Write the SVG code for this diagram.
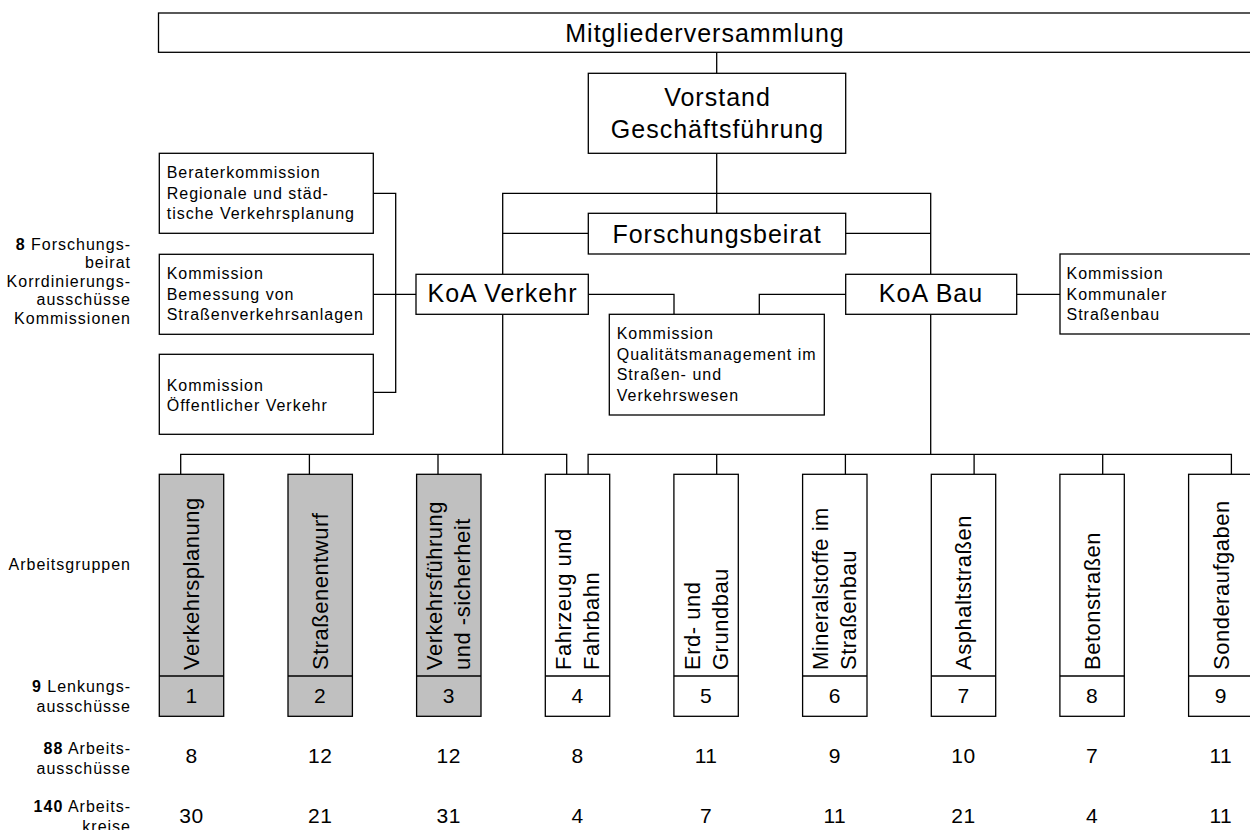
<svg xmlns="http://www.w3.org/2000/svg" width="1250" height="830" viewBox="0 0 1250 830">
  <style>
    text { font-family: "Liberation Sans", Arial, sans-serif; fill: #000; }
    .box { fill: #fff; stroke: #000; stroke-width: 1.3; }
    .grey { fill: #c0c0c0; }
    .con { fill: none; stroke: #000; stroke-width: 1.3; }
    .big { font-size: 25px; letter-spacing: 1px; text-anchor: middle; }
    .sm { font-size: 16px; letter-spacing: 1px; }
    .lbl { font-size: 16px; letter-spacing: 1px; text-anchor: end; }
    .rot { font-size: 22px; letter-spacing: 0.5px; }
    .num { font-size: 21px; letter-spacing: 0.5px; text-anchor: middle; }
    b, .b { font-weight: bold; }
  </style>

  <!-- connectors -->
  <g id="connectors" class="con">
    <path d="M716.7,52.3 V73.3"/>
    <path d="M716.7,153.3 V213.3"/>
    <path d="M502.7,274.3 V193.3 H930.7 V274.3"/>
    <path d="M502.7,233.3 H588.3"/>
    <path d="M845.7,233.3 H930.7"/>
    <path d="M373.3,193.3 H395.7 V392.3 H373.3"/>
    <path d="M373.3,294.3 H416"/>
    <path d="M588.3,294.3 H674 V314.3"/>
    <path d="M845.7,294.3 H759.3 V314.3"/>
    <path d="M1016.7,294.3 H1060"/>
    <path d="M502.7,314.3 V454.3"/>
    <path d="M930.7,314.3 V454.3"/>
    <path d="M180.7,474.3 V454.3 H566.7 V474.3 M309.4,454.3 V474.3 M438,454.3 V474.3"/>
    <path d="M588.1,474.3 V454.3 H1231.4 V474.3 M716.7,454.3 V474.3 M845.4,454.3 V474.3 M974.1,454.3 V474.3 M1102.7,454.3 V474.3"/>
  </g>

  <!-- top levels -->
  <g id="mitgliederversammlung">
    <rect class="box" x="158.5" y="13" width="1092.5" height="39.3"/>
    <text class="big" x="705" y="42">Mitgliederversammlung</text>
  </g>
  <g id="vorstand">
    <rect class="box" x="588.3" y="73.3" width="257.4" height="80"/>
    <text class="big" x="717.5" y="106">Vorstand</text>
    <text class="big" x="717.5" y="137.7">Geschäftsführung</text>
  </g>
  <g id="forschungsbeirat">
    <rect class="box" x="588.3" y="213.3" width="257.4" height="40.7"/>
    <text class="big" x="717" y="242.7">Forschungsbeirat</text>
  </g>
  <g id="koa-verkehr">
    <rect class="box" x="416" y="274.3" width="172.3" height="40"/>
    <text class="big" x="502.5" y="301.7">KoA Verkehr</text>
  </g>
  <g id="koa-bau">
    <rect class="box" x="845.7" y="274.3" width="171" height="40"/>
    <text class="big" x="931" y="301.7">KoA Bau</text>
  </g>

  <!-- commissions -->
  <g id="kom-berater">
    <rect class="box" x="159.3" y="153.3" width="214" height="80"/>
    <text class="sm" x="166.7" y="178.3">Beraterkommission</text>
    <text class="sm" x="166.7" y="198.8">Regionale und städ-</text>
    <text class="sm" x="166.7" y="219.3">tische Verkehrsplanung</text>
  </g>
  <g id="kom-bemessung">
    <rect class="box" x="159.3" y="254.3" width="214" height="80"/>
    <text class="sm" x="166.7" y="279.2">Kommission</text>
    <text class="sm" x="166.7" y="299.7">Bemessung von</text>
    <text class="sm" x="166.7" y="320.2">Straßenverkehrsanlagen</text>
  </g>
  <g id="kom-oepnv">
    <rect class="box" x="159.3" y="354.3" width="214" height="80"/>
    <text class="sm" x="166.7" y="390.5">Kommission</text>
    <text class="sm" x="166.7" y="411">Öffentlicher Verkehr</text>
  </g>
  <g id="kom-qualitaet">
    <rect class="box" x="609.3" y="314.3" width="215" height="100.7"/>
    <text class="sm" x="616.7" y="339">Kommission</text>
    <text class="sm" x="616.7" y="359.5">Qualitätsmanagement im</text>
    <text class="sm" x="616.7" y="380">Straßen- und</text>
    <text class="sm" x="616.7" y="400.5">Verkehrswesen</text>
  </g>
  <g id="kom-kommunal">
    <rect class="box" x="1060" y="254" width="215" height="80"/>
    <text class="sm" x="1066.5" y="279.3">Kommission</text>
    <text class="sm" x="1066.5" y="299.8">Kommunaler</text>
    <text class="sm" x="1066.5" y="320.3">Straßenbau</text>
  </g>

  <!-- row labels -->
  <g id="row-labels">
    <text class="lbl" x="131" y="249.5"><tspan class="b">8</tspan> Forschungs-</text>
    <text class="lbl" x="131" y="268">beirat</text>
    <text class="lbl" x="131" y="286.5">Korrdinierungs-</text>
    <text class="lbl" x="131" y="305">ausschüsse</text>
    <text class="lbl" x="131" y="323.5">Kommissionen</text>
    <text class="lbl" x="131" y="569.5">Arbeitsgruppen</text>
    <text class="lbl" x="131" y="691.5"><tspan class="b">9</tspan> Lenkungs-</text>
    <text class="lbl" x="131" y="711.5">ausschüsse</text>
    <text class="lbl" x="131" y="753.5"><tspan class="b">88</tspan> Arbeits-</text>
    <text class="lbl" x="131" y="773.5">ausschüsse</text>
    <text class="lbl" x="131" y="812"><tspan class="b">140</tspan> Arbeits-</text>
    <text class="lbl" x="131" y="832">kreise</text>
  </g>

  <!-- working groups -->
  <g id="ag1">
    <rect class="box grey" x="159.3" y="474.3" width="64.4" height="242"/>
    <path class="con" d="M159.3,676 H223.7"/>
    <text class="rot" transform="translate(199,670) rotate(-90)">Verkehrsplanung</text>
    <text class="num" x="191.5" y="703.3">1</text>
  </g>
  <g id="ag2">
    <rect class="box grey" x="288" y="474.3" width="64.4" height="242"/>
    <path class="con" d="M288,676 H352.4"/>
    <text class="rot" transform="translate(327.7,670) rotate(-90)">Straßenentwurf</text>
    <text class="num" x="320.2" y="703.3">2</text>
  </g>
  <g id="ag3">
    <rect class="box grey" x="416.6" y="474.3" width="64.4" height="242"/>
    <path class="con" d="M416.6,676 H481"/>
    <text class="rot" transform="translate(442.3,670) rotate(-90)">Verkehrsführung<tspan x="0" dy="28">und -sicherheit</tspan></text>
    <text class="num" x="448.8" y="703.3">3</text>
  </g>
  <g id="ag4">
    <rect class="box" x="545.3" y="474.3" width="64.4" height="242"/>
    <path class="con" d="M545.3,676 H609.7"/>
    <text class="rot" transform="translate(571,670) rotate(-90)">Fahrzeug und<tspan x="0" dy="28">Fahrbahn</tspan></text>
    <text class="num" x="577.5" y="703.3">4</text>
  </g>
  <g id="ag5">
    <rect class="box" x="673.9" y="474.3" width="64.4" height="242"/>
    <path class="con" d="M673.9,676 H738.3"/>
    <text class="rot" transform="translate(699.6,670) rotate(-90)">Erd- und<tspan x="0" dy="28">Grundbau</tspan></text>
    <text class="num" x="706.1" y="703.3">5</text>
  </g>
  <g id="ag6">
    <rect class="box" x="802.6" y="474.3" width="64.4" height="242"/>
    <path class="con" d="M802.6,676 H867"/>
    <text class="rot" transform="translate(828.3,670) rotate(-90)">Mineralstoffe im<tspan x="0" dy="28">Straßenbau</tspan></text>
    <text class="num" x="834.8" y="703.3">6</text>
  </g>
  <g id="ag7">
    <rect class="box" x="931.3" y="474.3" width="64.4" height="242"/>
    <path class="con" d="M931.3,676 H995.7"/>
    <text class="rot" transform="translate(971.3,670) rotate(-90)">Asphaltstraßen</text>
    <text class="num" x="963.5" y="703.3">7</text>
  </g>
  <g id="ag8">
    <rect class="box" x="1059.9" y="474.3" width="64.4" height="242"/>
    <path class="con" d="M1059.9,676 H1124.3"/>
    <text class="rot" transform="translate(1099.9,670) rotate(-90)">Betonstraßen</text>
    <text class="num" x="1092.1" y="703.3">8</text>
  </g>
  <g id="ag9">
    <rect class="box" x="1188.6" y="474.3" width="64.4" height="242"/>
    <path class="con" d="M1188.6,676 H1253"/>
    <text class="rot" transform="translate(1228.5,670) rotate(-90)">Sonderaufgaben</text>
    <text class="num" x="1220.8" y="703.3">9</text>
  </g>

  <!-- committee counts -->
  <g id="counts">
    <text class="num" x="191.5" y="763.3">8</text>
    <text class="num" x="320.2" y="763.3">12</text>
    <text class="num" x="448.8" y="763.3">12</text>
    <text class="num" x="577.5" y="763.3">8</text>
    <text class="num" x="706.1" y="763.3">11</text>
    <text class="num" x="834.8" y="763.3">9</text>
    <text class="num" x="963.5" y="763.3">10</text>
    <text class="num" x="1092.1" y="763.3">7</text>
    <text class="num" x="1220.8" y="763.3">11</text>
    <text class="num" x="191.5" y="823.3">30</text>
    <text class="num" x="320.2" y="823.3">21</text>
    <text class="num" x="448.8" y="823.3">31</text>
    <text class="num" x="577.5" y="823.3">4</text>
    <text class="num" x="706.1" y="823.3">7</text>
    <text class="num" x="834.8" y="823.3">11</text>
    <text class="num" x="963.5" y="823.3">21</text>
    <text class="num" x="1092.1" y="823.3">4</text>
    <text class="num" x="1220.8" y="823.3">11</text>
  </g>
</svg>
